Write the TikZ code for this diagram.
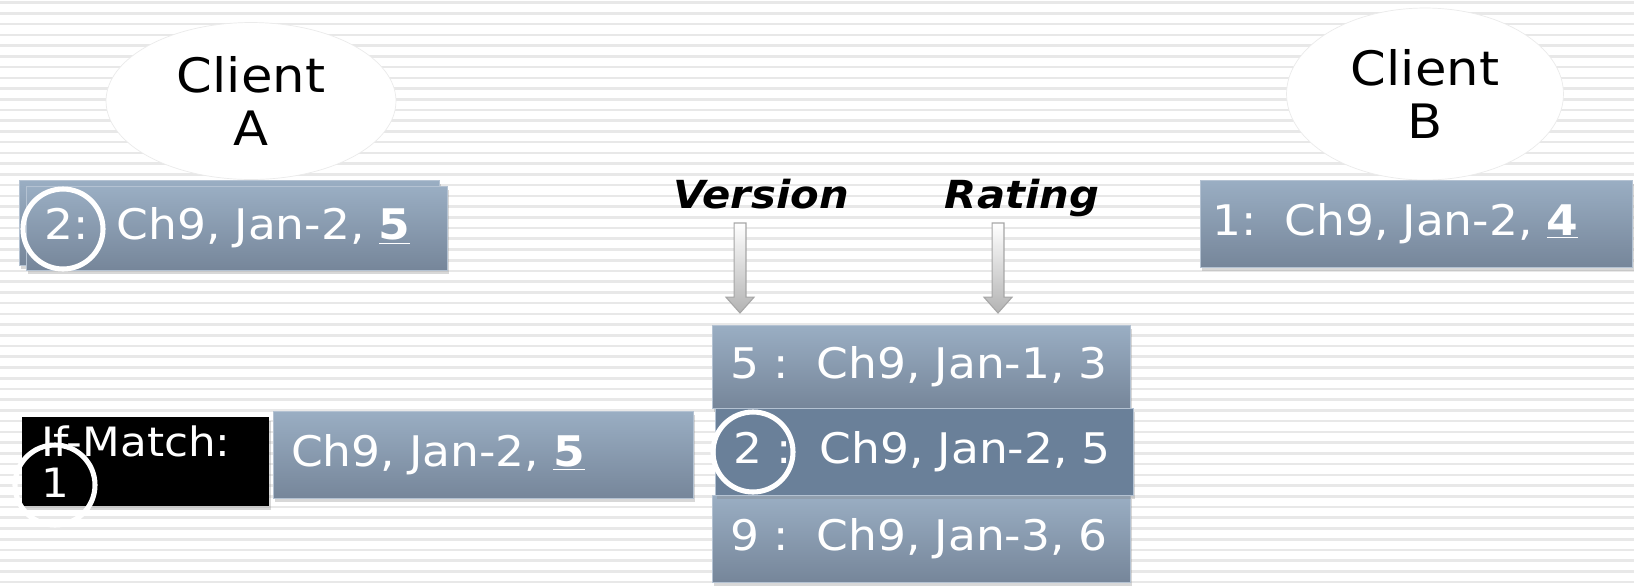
\documentclass[tikz,border=0pt]{standalone}
\usepackage{fontspec}
\setmainfont{DejaVu Sans}[FakeStretch=1.08]
\usepackage{tikz}
\usetikzlibrary{shapes.geometric, shadows, calc}
\definecolor{rowTop}{HTML}{9AAEC3}
\definecolor{rowBot}{HTML}{76869A}
\definecolor{rowHit}{HTML}{6A8099}
\definecolor{rowEdge}{HTML}{B4C2D2}
\definecolor{stripeGray}{HTML}{E8E8E8}

\begin{document}
\begin{tikzpicture}[x=0.02cm, y=-0.02cm,
    rowbox/.style={rectangle, top color=rowTop, bottom color=rowBot, draw=rowEdge, line width=0.5pt, text=white, font=\fontsize{24}{28}\selectfont, align=left, inner xsep=0.36cm, drop shadow={opacity=0.3, shadow xshift=1pt, shadow yshift=-2.5pt}},
    ring/.style={circle, draw=white, line width=2.9pt, minimum size=1.6cm, inner sep=0pt},
    client/.style={ellipse, fill=white, draw=black!8, align=center, font=\fontsize{27}{30}\selectfont},
    tag/.style={anchor=base, font=\fontsize{22}{26}\selectfont\bfseries\itshape},
    fatarrow/.style={top color=white, bottom color=black!30, draw=black!35, line width=0.6pt}]
        % Page and striped background
        \useasboundingbox (0,0) rectangle (1634,586);
        \clip (0,0) rectangle (1634,586);
        \fill[white] (0,0) rectangle (1634,586);
        \foreach \k in {0,...,54}
            \fill[stripeGray] (0,1.4+10.73*\k) rectangle (1634,4.0+10.73*\k);

        % Clients
        \node[client, minimum width=5.8cm, minimum height=3.14cm] (cla) at (251,101) {Client\\A};
        \node[client, minimum width=5.54cm, minimum height=3.44cm] (clb) at (1425,94) {Client\\B};

        % What each client holds
        \path[rowbox] (19,180) rectangle (439,265);
        \node[rowbox, minimum width=8.42cm, minimum height=1.68cm, text width=7.7cm] (boxa) at (236.5,228) {2:\ \ Ch9, Jan-2, \underline{\textbf{5}}};
        \node[ring] (ca) at (63,229) {};
        \node[rowbox, inner xsep=0.24cm, minimum width=8.64cm, minimum height=1.74cm, text width=8.16cm] (boxb) at (1416,223.5) {1:\ \ Ch9, Jan-2, \underline{\textbf{4}}};

        % Column labels
        \node[tag] (ver) at (761,208) {Version};
        \node[tag] (rat) at (1022,208) {Rating};
        \coordinate (va) at (740,223);
        \coordinate (vb) at (740,313);
        \coordinate (ra) at (998,223);
        \coordinate (rb) at (998,313);
        \foreach \s/\e in {va/vb, ra/rb}
            \path[fatarrow] let \p1=(\s), \p2=(\e) in
                (\x1-3.4pt,\y1) -- (\x1+3.4pt,\y1) -- (\x1+3.4pt,\y2+9pt) -- (\x1+8pt,\y2+9pt)
                -- (\x2,\y2) -- (\x1-8pt,\y2+9pt) -- (\x1-3.4pt,\y2+9pt) -- cycle;

        % Stored rows (2 is the hit)
        \node[rowbox, minimum width=8.36cm, minimum height=1.66cm, text width=7.64cm] (row1) at (921,366.5) {5 :\ \ Ch9, Jan-1, 3};
        \node[rowbox, minimum width=8.36cm, minimum height=1.74cm, text width=7.64cm] (row3) at (921,538.5) {9 :\ \ Ch9, Jan-3, 6};
        \node[rowbox, fill=rowHit, top color=rowHit, bottom color=rowHit, minimum width=8.36cm, minimum height=1.74cm, text width=7.64cm] (row2) at (924,451.5) {2 :\ \ Ch9, Jan-2, 5};
        \node[ring] (c2) at (753,452) {};

        % Conditional request
        \node[fill=black, text=white, align=left, inner xsep=0.38cm, minimum width=4.94cm, minimum height=1.78cm, text width=4.18cm, font=\fontsize{23}{23.3}\selectfont, drop shadow={opacity=0.3, shadow xshift=1pt, shadow yshift=-2pt}] (ifm) at (145.5,461.5) {If-Match:\\1};
        \node[rowbox, minimum width=8.4cm, minimum height=1.74cm, text width=7.68cm] (req) at (483,454.5) {Ch9, Jan-2, \underline{\textbf{5}}};
        \node[ring] (c1) at (55,485) {};
    \end{tikzpicture}
\end{document}
